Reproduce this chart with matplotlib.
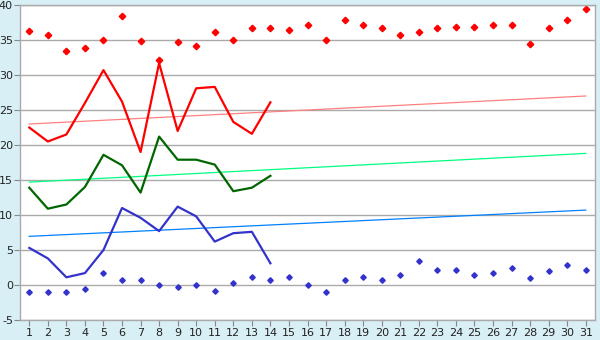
import matplotlib
matplotlib.use("Agg")
import matplotlib.pyplot as plt

plt.rcParams['axes.unicode_minus'] = False

days = list(range(1, 32))
max_record = [36.3, 35.7, 33.5, 33.8, 35.0, 38.4, 34.8, 32.2, 34.7, 34.1,
              36.1, 35.0, 36.7, 36.7, 36.5, 37.2, 35.0, 37.8, 37.2, 36.7,
              35.7, 36.1, 36.7, 36.9, 36.9, 37.2, 37.2, 34.5, 36.7, 37.8, 39.4]
min_record = [-1.05, -1.05, -1.05, -0.6, 1.7, 0.7, 0.7, 0.0, -0.3, 0.0,
              -0.9, 0.25, 1.1, 0.7, 1.1, 0.0, -1.05, 0.7, 1.2, 0.7,
              1.4, 3.4, 2.2, 2.2, 1.4, 1.7, 2.4, 1.0, 2.0, 2.8, 2.2]
obs_days = list(range(1, 15))
tmax = [22.5, 20.5, 21.5, 26.0, 30.7, 26.2, 19.0, 31.7, 22.0, 28.1, 28.3, 23.3, 21.6, 26.1]
tmean = [13.9, 10.9, 11.5, 14.0, 18.6, 17.1, 13.2, 21.2, 17.9, 17.9, 17.2, 13.4, 13.9, 15.6]
tmin = [5.3, 3.8, 1.1, 1.7, 5.0, 11.0, 9.6, 7.7, 11.2, 9.8, 6.2, 7.4, 7.6, 3.1]
normal_days = [1, 31]
normal_max = [23.0, 27.0]
normal_mean = [14.7, 18.8]
normal_min = [6.95, 10.7]
yticks = list(range(-5, 45, 5))

fig = plt.figure(figsize=(6, 3.4), dpi=100, facecolor='#d9eff6')
ax = fig.add_axes([20/600, 1-320/340, 575/600, 315/340])
ax.set_facecolor('white')

ax.plot(normal_days, normal_max, color='#ff8080', lw=0.9)
ax.plot(normal_days, normal_mean, color='#00ff80', lw=0.9)
ax.plot(normal_days, normal_min, color='#0080ff', lw=0.9)
ax.plot(obs_days, tmax, color='#ff0000', lw=1.6)
ax.plot(obs_days, tmean, color='#006600', lw=1.6)
ax.plot(obs_days, tmin, color='#3333cc', lw=1.6)
ax.plot(days, max_record, ls='none', marker='D', ms=3.3, color='#ff0000', mec='#ff0000')
ax.plot(days, min_record, ls='none', marker='D', ms=2.8, color='#3333cc', mec='#3333cc')

ax.set_xlim(0.5, 31.5)
ax.set_ylim(-5, 40)
ax.set_yticks(yticks)
ax.set_xticks(days)
ax.grid(axis='y', color='#aaaaaa', lw=1.0)
ax.set_axisbelow(True)
for s in ax.spines.values():
    s.set_color('#aaaaaa')
    s.set_linewidth(1.0)
ax.tick_params(axis='both', colors='#888888', labelcolor='#222222', labelsize=8, length=4, width=0.8)
ax.tick_params(axis='y', pad=1)
ax.tick_params(axis='x', pad=2)

fig.savefig('out.png', dpi=100, facecolor=fig.get_facecolor())
